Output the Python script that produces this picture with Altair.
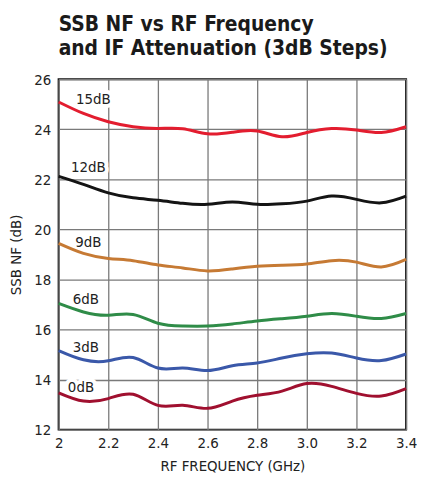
import altair as alt
import pandas as pd

freq = [2.0, 2.1, 2.2, 2.3, 2.4, 2.5, 2.6, 2.7, 2.8, 2.9, 3.0, 3.1, 3.2, 3.3, 3.4]
nf_15 = [25.09, 24.63, 24.30, 24.10, 24.03, 24.02, 23.82, 23.88, 23.93, 23.70, 23.87, 24.03, 23.97, 23.87, 24.10]
nf_12 = [22.12, 21.80, 21.46, 21.26, 21.16, 21.04, 21.00, 21.09, 21.00, 21.02, 21.13, 21.33, 21.20, 21.06, 21.33]
nf_9 = [19.44, 19.04, 18.84, 18.75, 18.58, 18.46, 18.34, 18.42, 18.53, 18.57, 18.62, 18.75, 18.69, 18.50, 18.80]
nf_6 = [17.04, 16.70, 16.57, 16.60, 16.25, 16.14, 16.14, 16.22, 16.34, 16.43, 16.53, 16.64, 16.53, 16.44, 16.64]
nf_3 = [15.16, 14.79, 14.75, 14.88, 14.46, 14.46, 14.36, 14.55, 14.66, 14.86, 15.03, 15.06, 14.86, 14.76, 15.02]
nf_0 = [13.47, 13.14, 13.24, 13.41, 12.97, 12.97, 12.85, 13.14, 13.37, 13.54, 13.84, 13.73, 13.45, 13.34, 13.64]

series_names = ["15dB", "12dB", "9dB", "6dB", "3dB", "0dB"]
series_values = [nf_15, nf_12, nf_9, nf_6, nf_3, nf_0]
series_colors = ["#e31d2f", "#141414", "#c67a34", "#2f8c48", "#3a58a9", "#a0102f"]

label_x = [2.14, 2.12, 2.12, 2.11, 2.11, 2.09]
label_y = [25.2, 22.5, 19.5, 17.2, 15.3, 13.72]

x_ticks = [2.0, 2.2, 2.4, 2.6, 2.8, 3.0, 3.2, 3.4]
y_ticks = [12, 14, 16, 18, 20, 22, 24, 26]

FONT = "Liberation Sans Narrow, DejaVu Sans Condensed, Roboto, sans-serif"

rows = []
for name, vals in zip(series_names, series_values):
    for f, v in zip(freq, vals):
        rows.append({"freq": f, "nf": v, "series": name})
df = pd.DataFrame(rows)

lab = pd.DataFrame({"x": label_x, "y": label_y, "label": series_names})

xs = alt.Scale(domain=[2.0, 3.4], nice=False, zero=False)
ys = alt.Scale(domain=[12, 26], nice=False, zero=False)

lines = alt.Chart(df).mark_line(strokeWidth=3, interpolate="natural").encode(
    x=alt.X("freq:Q", scale=xs, axis=alt.Axis(
        values=x_ticks, title="RF FREQUENCY (GHz)", labelFlush=False,
        labelExpr="datum.value == 2 ? '2' : format(datum.value, '.1f')")),
    y=alt.Y("nf:Q", scale=ys, axis=alt.Axis(values=y_ticks, title="SSB NF (dB)")),
    color=alt.Color("series:N", scale=alt.Scale(domain=series_names, range=series_colors), legend=None),
)

halo = alt.Chart(lab).mark_text(fontSize=15, font=FONT, stroke="white", strokeWidth=8,
                                fill="white", strokeJoin="round").encode(
    x=alt.X("x:Q", scale=xs), y=alt.Y("y:Q", scale=ys), text="label:N")
texts = alt.Chart(lab).mark_text(fontSize=15, font=FONT, color="#222").encode(
    x=alt.X("x:Q", scale=xs), y=alt.Y("y:Q", scale=ys), text="label:N")

chart = alt.layer(halo, lines, texts).properties(
    width=350, height=353,
    padding={"left": 0, "top": 4, "right": 0, "bottom": 0},
    title=alt.TitleParams(
        text=["SSB NF vs RF Frequency", "and IF Attenuation (3dB Steps)"],
        anchor="start", frame="group", font=FONT, fontSize=21, fontWeight="bold",
        color="#1a1a1a", lineHeight=25, offset=13),
).configure_view(stroke="#111", strokeWidth=2).configure_axis(
    grid=True, gridColor="#7a7a7a", gridWidth=1.3, ticks=False, domain=False,
    labelFont=FONT, labelFontSize=15, labelColor="#222", titleFont=FONT,
    titleFontSize=15, titleFontWeight="normal", titleColor="#222", labelPadding=8,
).configure_axisY(titlePadding=10).configure_axisX(titlePadding=8, labelPadding=6)

chart.save("out.html", embed_options={"renderer": "svg", "actions": False})
